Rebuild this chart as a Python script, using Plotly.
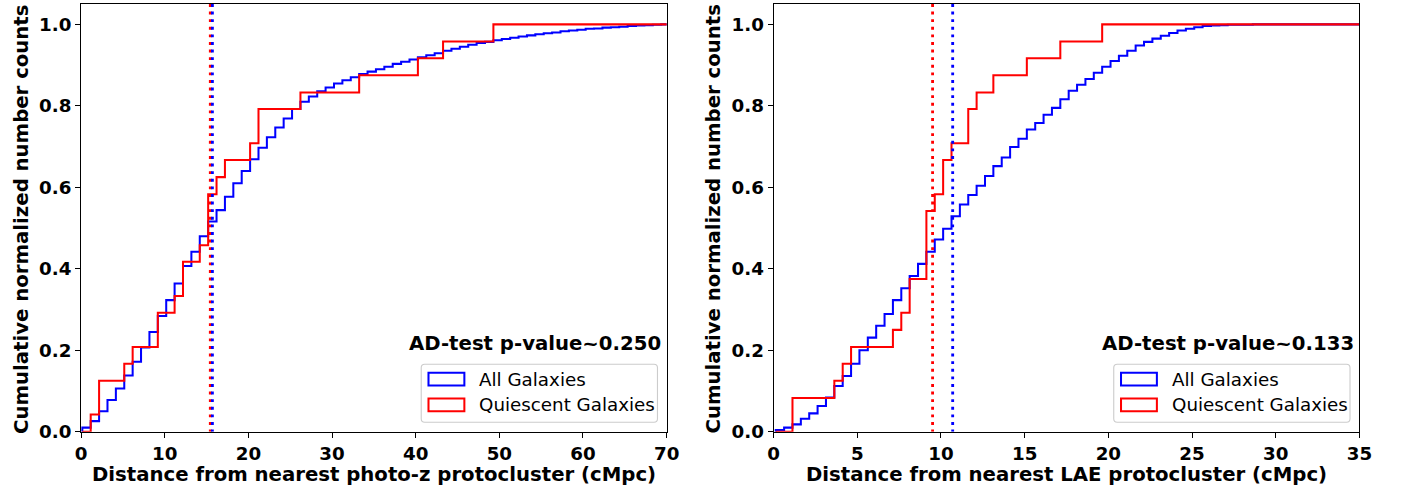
import numpy as np
import plotly.graph_objects as go

# ---------------- data ----------------
N_BINS = 70
LEFT_BIN_RANGE = (0.15, 70.35)    # cMpc, photo-z protocluster distance bins
RIGHT_BIN_RANGE = (0.13, 35.13)   # cMpc, LAE protocluster distance bins

left_all = [0.010, 0.026, 0.050, 0.078, 0.106, 0.138, 0.172, 0.207, 0.245, 0.284,
            0.323, 0.364, 0.407, 0.442, 0.480, 0.516, 0.544, 0.577, 0.610, 0.640,
            0.669, 0.697, 0.723, 0.747, 0.769, 0.792, 0.810, 0.823, 0.836, 0.845,
            0.855, 0.863, 0.870, 0.878, 0.884, 0.890, 0.896, 0.903, 0.908, 0.914,
            0.919, 0.924, 0.929, 0.935, 0.940, 0.945, 0.950, 0.954, 0.957, 0.961,
            0.964, 0.967, 0.970, 0.973, 0.976, 0.978, 0.980, 0.983, 0.985, 0.987,
            0.989, 0.990, 0.992, 0.993, 0.994, 0.996, 0.997, 0.998, 0.999, 1.000]

left_quiescent = [0.000, 0.042, 0.125, 0.125, 0.125, 0.167, 0.208, 0.208, 0.208, 0.292,
                  0.292, 0.333, 0.417, 0.417, 0.458, 0.583, 0.625, 0.667, 0.667, 0.667,
                  0.708, 0.792, 0.792, 0.792, 0.792, 0.792, 0.833, 0.833, 0.833, 0.833,
                  0.833, 0.833, 0.833, 0.875, 0.875, 0.875, 0.875, 0.875, 0.875, 0.875,
                  0.917, 0.917, 0.917, 0.958, 0.958, 0.958, 0.958, 0.958, 0.958, 1.000,
                  1.000, 1.000, 1.000, 1.000, 1.000, 1.000, 1.000, 1.000, 1.000, 1.000,
                  1.000, 1.000, 1.000, 1.000, 1.000, 1.000, 1.000, 1.000, 1.000, 1.000]

right_all = [0.004, 0.010, 0.018, 0.032, 0.045, 0.063, 0.084, 0.112, 0.137, 0.167,
             0.200, 0.231, 0.260, 0.289, 0.323, 0.352, 0.382, 0.412, 0.442, 0.472,
             0.498, 0.529, 0.558, 0.581, 0.604, 0.628, 0.652, 0.673, 0.699, 0.719,
             0.742, 0.758, 0.778, 0.795, 0.816, 0.837, 0.852, 0.866, 0.881, 0.896,
             0.910, 0.923, 0.935, 0.948, 0.957, 0.965, 0.972, 0.979, 0.985, 0.989,
             0.993, 0.996, 0.997, 0.998, 0.999, 0.999, 0.999, 1.000, 1.000, 1.000,
             1.000, 1.000, 1.000, 1.000, 1.000, 1.000, 1.000, 1.000, 1.000, 1.000]

right_quiescent = [0.000, 0.000, 0.083, 0.083, 0.083, 0.083, 0.083, 0.125, 0.167, 0.208,
                   0.208, 0.208, 0.208, 0.208, 0.250, 0.292, 0.375, 0.375, 0.542, 0.583,
                   0.667, 0.708, 0.708, 0.792, 0.833, 0.833, 0.875, 0.875, 0.875, 0.875,
                   0.917, 0.917, 0.917, 0.917, 0.958, 0.958, 0.958, 0.958, 0.958, 1.000,
                   1.000, 1.000, 1.000, 1.000, 1.000, 1.000, 1.000, 1.000, 1.000, 1.000,
                   1.000, 1.000, 1.000, 1.000, 1.000, 1.000, 1.000, 1.000, 1.000, 1.000,
                   1.000, 1.000, 1.000, 1.000, 1.000, 1.000, 1.000, 1.000, 1.000, 1.000]

left_medians = {"all": 15.7, "quiescent": 15.45}
right_medians = {"all": 10.7, "quiescent": 9.5}

left_pvalue = "AD-test p-value~0.250"
right_pvalue = "AD-test p-value~0.133"
left_xlabel = "Distance from nearest photo-z protocluster (cMpc)"
right_xlabel = "Distance from nearest LAE protocluster (cMpc)"
ylabel = "Cumulative normalized number counts"
series_names = ["All Galaxies", "Quiescent Galaxies"]

left_xticks = [0, 10, 20, 30, 40, 50, 60, 70]
right_xticks = [0, 5, 10, 15, 20, 25, 30, 35]
yticks = [0.0, 0.2, 0.4, 0.6, 0.8, 1.0]

# ---------------- layout helpers ----------------
W, H = 1405, 491          # target picture size (layout positions are given in these pixels)
FW, FH = 1419, 501        # figure size (the page is photographed slightly scaled)
K = 1.015                 # size factor for fonts / strokes
FONT = "DejaVu Sans"
BLUE, RED = "blue", "red"


def px(x):
    return x / W


def py(y):
    return 1 - y / H


def step_xy(bin_range, values):
    edges = np.linspace(bin_range[0], bin_range[1], N_BINS + 1)
    x = [edges[0], edges[0]] + list(edges[1:]) + [edges[-1]]
    y = [0.0] + list(values) + [values[-1], 0.0]
    return x, y


fig = go.Figure()

panels = [
    dict(xa="x", ya="y", rng=LEFT_BIN_RANGE, all=left_all, q=left_quiescent,
         med=left_medians, ticks=left_xticks, dx=0, ptxt=left_pvalue, xlabel=left_xlabel),
    dict(xa="x2", ya="y2", rng=RIGHT_BIN_RANGE, all=right_all, q=right_quiescent,
         med=right_medians, ticks=right_xticks, dx=695, ptxt=right_pvalue, xlabel=right_xlabel),
]

for p in panels:
    xb, yb = step_xy(p["rng"], p["all"])
    fig.add_trace(go.Scatter(x=xb, y=yb, mode="lines", line=dict(color=BLUE, width=2.0 * K, shape="hv"),
                             xaxis=p["xa"], yaxis=p["ya"], showlegend=False, hoverinfo="skip"))
    xr, yr = step_xy(p["rng"], p["q"])
    fig.add_trace(go.Scatter(x=xr, y=yr, mode="lines", line=dict(color=RED, width=2.0 * K, shape="hv"),
                             xaxis=p["xa"], yaxis=p["ya"], showlegend=False, hoverinfo="skip"))
    for key, col in (("quiescent", RED), ("all", BLUE)):
        m = p["med"][key]
        fig.add_trace(go.Scatter(x=[m, m], y=[1.05, 0.0], mode="lines",
                                 line=dict(color=col, width=2.8 * K, dash="2.9px,4.7px"),
                                 xaxis=p["xa"], yaxis=p["ya"], showlegend=False, hoverinfo="skip"))

axis_common = dict(showgrid=False, zeroline=False, showline=True, linecolor="black", linewidth=1.1,
                   mirror=True, ticks="outside", ticklen=5, tickwidth=1.1, tickcolor="black",
                   tickfont=dict(family=FONT, size=18 * K, color="black", weight="bold"))

y_dom = [py(431.7), py(4)]
fig.update_layout(
    width=FW, height=FH, margin=dict(l=0, r=0, t=0, b=0, pad=0), autosize=False,
    paper_bgcolor="white", plot_bgcolor="white", showlegend=False,
    xaxis=dict(domain=[px(75.33), px(663)], range=[0, 70], tickvals=left_xticks, anchor="y", **axis_common),
    yaxis=dict(domain=y_dom, range=[0, 1.05], tickvals=yticks, tickformat=".1f", anchor="x", **axis_common),
    xaxis2=dict(domain=[px(770.3), px(1358.3)], range=[0, 35], tickvals=right_xticks, anchor="y2", **axis_common),
    yaxis2=dict(domain=y_dom, range=[0, 1.05], tickvals=yticks, tickformat=".1f", anchor="x2", **axis_common),
)


def rounded_rect(x0, y0, x1, y1, r):
    X = lambda v: f"{px(v):.6f}"
    Y = lambda v: f"{py(v):.6f}"
    return (f"M {X(x0 + r)},{Y(y0)} L {X(x1 - r)},{Y(y0)} Q {X(x1)},{Y(y0)} {X(x1)},{Y(y0 + r)} "
            f"L {X(x1)},{Y(y1 - r)} Q {X(x1)},{Y(y1)} {X(x1 - r)},{Y(y1)} "
            f"L {X(x0 + r)},{Y(y1)} Q {X(x0)},{Y(y1)} {X(x0)},{Y(y1 - r)} "
            f"L {X(x0)},{Y(y0 + r)} Q {X(x0)},{Y(y0)} {X(x0 + r)},{Y(y0)} Z")


shapes = []
annotations = []
for p in panels:
    dx = p["dx"]
    shapes.append(dict(type="path", xref="paper", yref="paper",
                       path=rounded_rect(416.7 + dx, 364.3, 653.8 + dx, 422.3, 3.5),
                       line=dict(color="#cccccc", width=1.1), fillcolor="rgba(255,255,255,0.8)"))
    for (y0, y1), col in (((372.8, 385.4), BLUE), ((398.6, 411.2), RED)):
        shapes.append(dict(type="rect", xref="paper", yref="paper",
                           x0=px(424.0 + dx), x1=px(460.0 + dx), y0=py(y1), y1=py(y0),
                           line=dict(color=col, width=2.0 * K), fillcolor="rgba(0,0,0,0)"))
    for name, yc in zip(series_names, (379.0, 404.8)):
        annotations.append(dict(text=name, xref="paper", yref="paper", x=px(474.0 + dx), y=py(yc),
                                xanchor="left", yanchor="middle", showarrow=False, borderpad=0,
                                font=dict(family=FONT, size=18 * K, color="black")))
    annotations.append(dict(text=p["ptxt"], xref="paper", yref="paper", x=px(658.5 + dx), y=py(343.6),
                            xanchor="right", yanchor="middle", showarrow=False, borderpad=0,
                            font=dict(family=FONT, size=19.4 * K, color="black", weight="bold")))
    annotations.append(dict(text=p["xlabel"], xref="paper", yref="paper", x=px(369.2 + dx), y=py(474.6),
                            xanchor="center", yanchor="middle", showarrow=False, borderpad=0,
                            font=dict(family=FONT, size=19.4 * K, color="black", weight="bold")))
    annotations.append(dict(text=ylabel, xref="paper", yref="paper", x=px(15.0 + dx), y=py(219.0),
                            xanchor="center", yanchor="middle", showarrow=False, borderpad=0, textangle=-90,
                            font=dict(family=FONT, size=19.4 * K, color="black", weight="bold")))

fig.update_layout(shapes=shapes, annotations=annotations)
fig.write_html("out.html")
